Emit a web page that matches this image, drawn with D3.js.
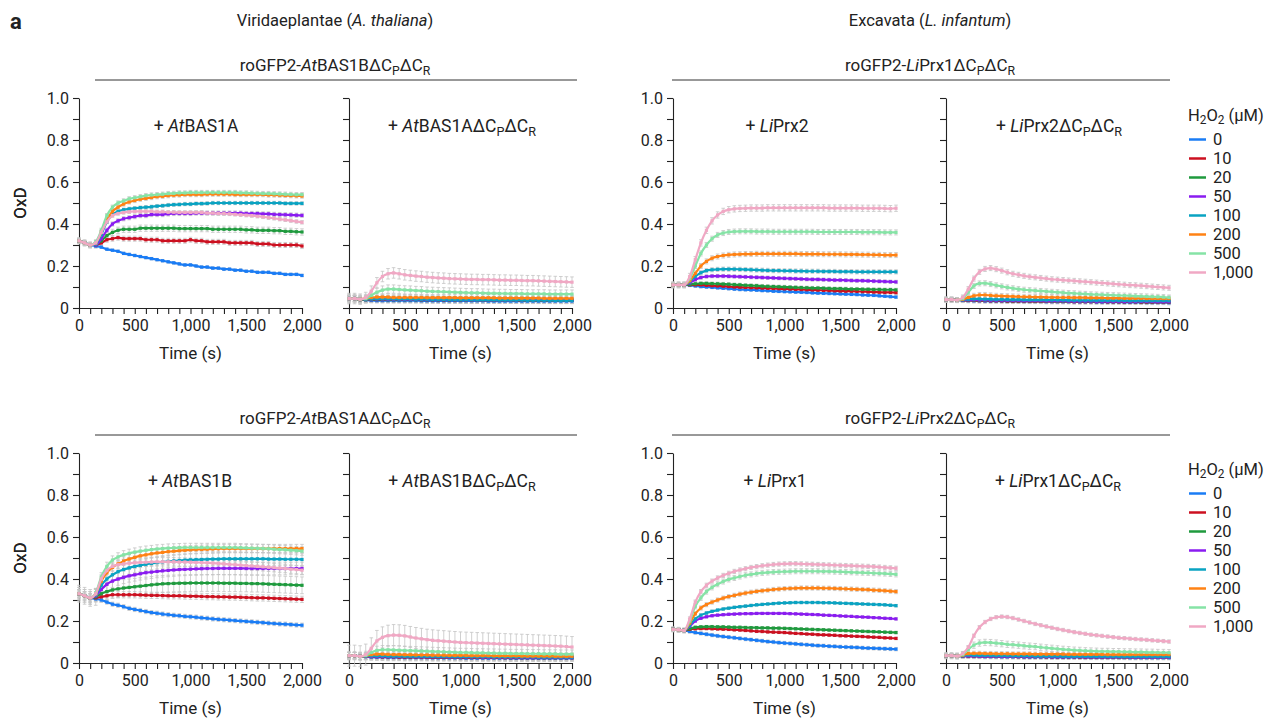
<!DOCTYPE html>
<html>
<head>
<meta charset="utf-8">
<script src="https://cdn.jsdelivr.net/npm/d3@7"></script>
<style>
  body { margin:0; background:#fff; }
  text { font-family: Roboto, "Noto Sans", sans-serif; fill:#222; }
</style>
</head>
<body>
<div id="body"></div>
<script>
//DATA - sampling times (s) shared by every trace
var times = [0,50,100,150,200,250,300,350,400,450,500,550,600,650,700,750,800,850,900,950,1000,
  1050,1100,1150,1200,1250,1300,1350,1400,1450,1500,1550,1600,1650,1700,1750,1800,1850,1900,1950,2000];

var conc = ["0","10","20","50","100","200","500","1,000"]; //H2O2 uM

var xTicks = [0,500,1000,1500,2000];
var yTicks = [0,0.2,0.4,0.6,0.8,1.0];

//OxD traces, one row per H2O2 concentration (0 ... 1000)
var oxdA1 = [ // roGFP2-AtBAS1B + AtBAS1A
  [0.32,0.31,0.30,0.295,0.29,0.28,0.275,0.27,0.26,0.255,0.25,0.245,0.24,0.235,0.23,0.225,0.22,0.215,0.21,0.205,0.205,0.20,0.195,0.195,0.19,0.19,0.185,0.185,0.18,0.18,0.175,0.175,0.17,0.17,0.17,0.165,0.165,0.16,0.16,0.16,0.155],
  [0.32,0.31,0.30,0.30,0.31,0.325,0.33,0.335,0.33,0.33,0.33,0.33,0.325,0.325,0.325,0.32,0.32,0.32,0.32,0.32,0.325,0.32,0.32,0.315,0.315,0.315,0.315,0.31,0.31,0.31,0.31,0.31,0.305,0.305,0.305,0.30,0.30,0.30,0.30,0.30,0.295],
  [0.32,0.31,0.30,0.30,0.32,0.345,0.36,0.37,0.375,0.375,0.375,0.38,0.38,0.38,0.38,0.38,0.38,0.38,0.378,0.378,0.378,0.378,0.378,0.378,0.375,0.375,0.375,0.375,0.375,0.375,0.372,0.372,0.37,0.37,0.37,0.368,0.368,0.365,0.365,0.363,0.362],
  [0.32,0.31,0.30,0.30,0.33,0.37,0.40,0.415,0.425,0.43,0.435,0.44,0.44,0.445,0.445,0.445,0.448,0.45,0.45,0.45,0.45,0.452,0.452,0.452,0.452,0.452,0.452,0.452,0.452,0.452,0.45,0.45,0.45,0.448,0.448,0.446,0.445,0.444,0.443,0.442,0.441],
  [0.32,0.31,0.30,0.305,0.35,0.41,0.445,0.46,0.468,0.472,0.475,0.478,0.48,0.482,0.485,0.487,0.49,0.492,0.493,0.495,0.495,0.497,0.497,0.498,0.50,0.50,0.50,0.50,0.50,0.50,0.50,0.50,0.50,0.50,0.50,0.50,0.50,0.498,0.498,0.498,0.498],
  [0.32,0.31,0.30,0.31,0.36,0.42,0.46,0.48,0.495,0.505,0.512,0.518,0.522,0.526,0.53,0.532,0.535,0.537,0.538,0.54,0.54,0.54,0.54,0.542,0.542,0.542,0.542,0.542,0.54,0.54,0.54,0.54,0.54,0.54,0.538,0.538,0.537,0.536,0.535,0.534,0.533],
  [0.32,0.31,0.30,0.315,0.37,0.44,0.48,0.50,0.51,0.52,0.525,0.53,0.535,0.538,0.54,0.542,0.545,0.546,0.548,0.548,0.55,0.55,0.55,0.55,0.55,0.55,0.55,0.55,0.55,0.548,0.548,0.547,0.546,0.545,0.545,0.544,0.543,0.542,0.541,0.54,0.54],
  [0.32,0.31,0.30,0.31,0.36,0.41,0.44,0.45,0.455,0.458,0.46,0.46,0.46,0.46,0.458,0.458,0.456,0.456,0.455,0.455,0.455,0.455,0.455,0.452,0.452,0.45,0.45,0.448,0.446,0.444,0.442,0.44,0.437,0.434,0.43,0.427,0.423,0.42,0.416,0.412,0.408]
];
var oxdA2 = [ // roGFP2-AtBAS1B + AtBAS1A dCPdCR
  [0.045,0.045,0.04,0.038,0.036,0.035,0.035,0.035,0.035,0.035,0.035,0.035,0.035,0.034,0.034,0.034,0.034,0.034,0.034,0.034,0.034,0.034,0.034,0.034,0.034,0.033,0.033,0.033,0.033,0.033,0.033,0.033,0.033,0.033,0.033,0.033,0.033,0.033,0.033,0.033,0.033],
  [0.045,0.045,0.04,0.04,0.04,0.04,0.04,0.04,0.04,0.04,0.04,0.04,0.04,0.039,0.039,0.039,0.039,0.038,0.038,0.038,0.038,0.038,0.038,0.038,0.037,0.037,0.037,0.037,0.037,0.037,0.037,0.036,0.036,0.036,0.036,0.036,0.036,0.036,0.036,0.036,0.036],
  [0.045,0.045,0.04,0.04,0.041,0.041,0.041,0.04,0.04,0.04,0.04,0.04,0.04,0.04,0.039,0.039,0.039,0.039,0.039,0.039,0.039,0.038,0.038,0.038,0.038,0.038,0.038,0.038,0.038,0.038,0.037,0.037,0.037,0.037,0.037,0.037,0.037,0.037,0.037,0.037,0.037],
  [0.045,0.045,0.042,0.042,0.043,0.043,0.043,0.042,0.042,0.042,0.041,0.041,0.041,0.041,0.04,0.04,0.04,0.04,0.04,0.04,0.04,0.039,0.039,0.039,0.039,0.039,0.039,0.039,0.039,0.038,0.038,0.038,0.038,0.038,0.038,0.038,0.038,0.038,0.038,0.038,0.038],
  [0.045,0.045,0.042,0.042,0.044,0.045,0.045,0.044,0.044,0.043,0.043,0.043,0.042,0.042,0.042,0.041,0.041,0.041,0.04,0.04,0.04,0.04,0.04,0.039,0.039,0.039,0.039,0.038,0.038,0.038,0.038,0.038,0.037,0.037,0.037,0.037,0.037,0.036,0.036,0.036,0.036],
  [0.045,0.045,0.042,0.045,0.05,0.052,0.052,0.052,0.05,0.05,0.05,0.05,0.05,0.05,0.049,0.049,0.049,0.049,0.049,0.049,0.048,0.048,0.048,0.048,0.048,0.048,0.048,0.047,0.047,0.047,0.047,0.047,0.047,0.047,0.047,0.046,0.046,0.046,0.046,0.046,0.046],
  [0.045,0.045,0.042,0.045,0.06,0.075,0.085,0.09,0.09,0.088,0.086,0.085,0.083,0.082,0.08,0.079,0.078,0.077,0.076,0.075,0.074,0.073,0.072,0.072,0.071,0.07,0.07,0.069,0.069,0.068,0.068,0.068,0.067,0.067,0.067,0.067,0.066,0.066,0.066,0.066,0.066],
  [0.045,0.045,0.042,0.05,0.08,0.12,0.15,0.163,0.167,0.163,0.158,0.155,0.152,0.15,0.147,0.145,0.143,0.142,0.14,0.139,0.138,0.137,0.136,0.136,0.135,0.135,0.134,0.133,0.133,0.132,0.132,0.131,0.13,0.13,0.129,0.128,0.127,0.126,0.125,0.124,0.123]
];
var oxdB1 = [ // roGFP2-LiPrx1 + LiPrx2
  [0.11,0.11,0.11,0.108,0.105,0.102,0.1,0.098,0.096,0.094,0.092,0.09,0.088,0.087,0.086,0.085,0.083,0.082,0.08,0.079,0.078,0.077,0.076,0.075,0.074,0.072,0.071,0.07,0.069,0.068,0.067,0.066,0.065,0.064,0.062,0.061,0.06,0.058,0.056,0.054,0.052],
  [0.11,0.11,0.11,0.11,0.11,0.11,0.108,0.106,0.105,0.104,0.102,0.1,0.099,0.098,0.097,0.096,0.095,0.094,0.093,0.092,0.091,0.09,0.089,0.088,0.087,0.086,0.085,0.084,0.083,0.082,0.081,0.08,0.08,0.079,0.078,0.077,0.076,0.075,0.074,0.074,0.073],
  [0.11,0.11,0.11,0.112,0.115,0.117,0.117,0.116,0.115,0.114,0.113,0.111,0.11,0.108,0.107,0.106,0.104,0.103,0.102,0.101,0.1,0.099,0.098,0.097,0.096,0.095,0.095,0.094,0.093,0.092,0.092,0.091,0.09,0.09,0.089,0.089,0.088,0.088,0.087,0.087,0.086],
  [0.11,0.11,0.11,0.12,0.135,0.145,0.15,0.152,0.152,0.152,0.151,0.15,0.149,0.148,0.147,0.146,0.145,0.144,0.143,0.142,0.141,0.14,0.139,0.138,0.137,0.136,0.136,0.135,0.134,0.133,0.133,0.132,0.131,0.13,0.13,0.129,0.128,0.127,0.126,0.125,0.124],
  [0.11,0.11,0.11,0.125,0.15,0.168,0.178,0.182,0.184,0.185,0.185,0.185,0.184,0.183,0.182,0.181,0.18,0.179,0.178,0.178,0.177,0.177,0.176,0.176,0.175,0.175,0.175,0.174,0.174,0.174,0.173,0.173,0.173,0.172,0.172,0.172,0.172,0.172,0.172,0.172,0.172],
  [0.11,0.11,0.11,0.13,0.165,0.2,0.222,0.237,0.245,0.25,0.253,0.255,0.256,0.257,0.257,0.258,0.258,0.258,0.258,0.258,0.258,0.258,0.258,0.257,0.257,0.257,0.257,0.256,0.256,0.256,0.256,0.255,0.255,0.255,0.254,0.254,0.253,0.253,0.252,0.252,0.252],
  [0.11,0.11,0.11,0.14,0.2,0.26,0.3,0.33,0.348,0.357,0.362,0.364,0.365,0.365,0.365,0.364,0.364,0.364,0.363,0.363,0.363,0.363,0.363,0.363,0.363,0.363,0.362,0.362,0.362,0.362,0.362,0.362,0.362,0.362,0.361,0.361,0.361,0.361,0.36,0.36,0.36],
  [0.11,0.11,0.11,0.15,0.23,0.31,0.37,0.415,0.443,0.46,0.468,0.472,0.474,0.475,0.476,0.476,0.476,0.477,0.477,0.477,0.477,0.477,0.477,0.477,0.477,0.477,0.477,0.477,0.476,0.476,0.476,0.476,0.476,0.476,0.475,0.475,0.475,0.475,0.474,0.473,0.475]
];
var oxdB2 = [ // roGFP2-LiPrx1 + LiPrx2 dCPdCR
  [0.04,0.04,0.038,0.036,0.035,0.034,0.034,0.033,0.033,0.033,0.033,0.032,0.032,0.032,0.031,0.031,0.031,0.031,0.03,0.03,0.03,0.03,0.03,0.029,0.029,0.029,0.029,0.028,0.028,0.028,0.028,0.028,0.027,0.027,0.027,0.027,0.026,0.026,0.026,0.026,0.025],
  [0.04,0.04,0.038,0.037,0.036,0.036,0.035,0.035,0.034,0.034,0.034,0.033,0.033,0.033,0.033,0.032,0.032,0.032,0.032,0.031,0.031,0.031,0.031,0.03,0.03,0.03,0.03,0.03,0.03,0.029,0.029,0.029,0.029,0.029,0.029,0.028,0.028,0.028,0.028,0.028,0.028],
  [0.04,0.04,0.038,0.038,0.038,0.038,0.037,0.037,0.036,0.036,0.036,0.035,0.035,0.035,0.035,0.034,0.034,0.034,0.034,0.033,0.033,0.033,0.033,0.033,0.032,0.032,0.032,0.032,0.032,0.031,0.031,0.031,0.031,0.031,0.031,0.03,0.03,0.03,0.03,0.03,0.03],
  [0.04,0.04,0.038,0.038,0.039,0.039,0.038,0.038,0.037,0.037,0.037,0.036,0.036,0.036,0.035,0.035,0.035,0.035,0.034,0.034,0.034,0.034,0.033,0.033,0.033,0.033,0.033,0.032,0.032,0.032,0.032,0.032,0.031,0.031,0.031,0.031,0.031,0.031,0.03,0.03,0.03],
  [0.04,0.04,0.038,0.039,0.042,0.043,0.043,0.042,0.042,0.041,0.041,0.04,0.04,0.04,0.039,0.039,0.039,0.039,0.038,0.038,0.038,0.038,0.037,0.037,0.037,0.037,0.037,0.036,0.036,0.036,0.036,0.036,0.036,0.035,0.035,0.035,0.035,0.035,0.035,0.035,0.035],
  [0.04,0.04,0.038,0.042,0.05,0.058,0.062,0.062,0.06,0.058,0.057,0.056,0.055,0.054,0.053,0.053,0.052,0.052,0.051,0.051,0.05,0.05,0.05,0.049,0.049,0.049,0.048,0.048,0.048,0.047,0.047,0.047,0.046,0.046,0.046,0.046,0.045,0.045,0.045,0.045,0.045],
  [0.04,0.04,0.038,0.045,0.075,0.105,0.117,0.118,0.114,0.108,0.103,0.098,0.094,0.09,0.087,0.085,0.083,0.081,0.079,0.077,0.075,0.073,0.071,0.07,0.068,0.067,0.065,0.064,0.063,0.062,0.061,0.06,0.059,0.058,0.057,0.056,0.055,0.054,0.053,0.052,0.05],
  [0.04,0.04,0.038,0.05,0.09,0.14,0.172,0.186,0.19,0.185,0.178,0.17,0.163,0.158,0.153,0.149,0.146,0.143,0.14,0.137,0.135,0.133,0.131,0.129,0.127,0.125,0.123,0.121,0.119,0.117,0.115,0.113,0.111,0.109,0.108,0.106,0.104,0.102,0.1,0.098,0.096]
];
var oxdC1 = [ // roGFP2-AtBAS1A + AtBAS1B
  [0.33,0.32,0.31,0.305,0.30,0.29,0.28,0.275,0.268,0.26,0.255,0.25,0.245,0.24,0.237,0.233,0.23,0.227,0.225,0.222,0.22,0.218,0.215,0.213,0.21,0.208,0.206,0.204,0.202,0.2,0.198,0.196,0.194,0.192,0.19,0.188,0.186,0.185,0.183,0.181,0.18],
  [0.33,0.32,0.31,0.31,0.315,0.32,0.325,0.325,0.325,0.325,0.325,0.324,0.323,0.322,0.322,0.321,0.32,0.32,0.32,0.319,0.318,0.318,0.317,0.316,0.316,0.315,0.315,0.314,0.314,0.313,0.312,0.311,0.31,0.31,0.309,0.308,0.307,0.306,0.305,0.304,0.303],
  [0.33,0.32,0.31,0.315,0.33,0.34,0.348,0.353,0.357,0.36,0.363,0.366,0.369,0.372,0.375,0.377,0.378,0.379,0.38,0.38,0.381,0.381,0.381,0.381,0.381,0.381,0.38,0.38,0.38,0.379,0.379,0.378,0.378,0.377,0.376,0.375,0.374,0.373,0.372,0.371,0.37],
  [0.33,0.32,0.31,0.32,0.35,0.375,0.39,0.4,0.408,0.415,0.42,0.425,0.43,0.433,0.436,0.439,0.441,0.443,0.445,0.446,0.447,0.448,0.449,0.45,0.45,0.451,0.451,0.451,0.451,0.451,0.45,0.45,0.45,0.45,0.45,0.45,0.45,0.45,0.45,0.45,0.45],
  [0.33,0.32,0.31,0.325,0.37,0.4,0.42,0.435,0.445,0.453,0.46,0.465,0.47,0.474,0.478,0.481,0.484,0.486,0.488,0.49,0.491,0.492,0.493,0.494,0.495,0.495,0.496,0.496,0.496,0.496,0.496,0.496,0.496,0.496,0.495,0.495,0.495,0.494,0.494,0.494,0.493],
  [0.33,0.32,0.31,0.33,0.39,0.43,0.455,0.472,0.485,0.495,0.503,0.51,0.515,0.52,0.524,0.527,0.53,0.533,0.535,0.537,0.539,0.54,0.541,0.542,0.543,0.544,0.545,0.545,0.545,0.545,0.545,0.545,0.545,0.545,0.545,0.545,0.545,0.545,0.545,0.545,0.545],
  [0.33,0.32,0.31,0.335,0.41,0.46,0.49,0.505,0.515,0.522,0.528,0.533,0.537,0.54,0.543,0.545,0.547,0.548,0.549,0.55,0.55,0.55,0.55,0.55,0.55,0.55,0.55,0.55,0.55,0.549,0.548,0.547,0.546,0.545,0.544,0.542,0.54,0.539,0.537,0.535,0.533],
  [0.33,0.32,0.31,0.33,0.4,0.44,0.46,0.468,0.472,0.475,0.477,0.479,0.48,0.481,0.482,0.482,0.482,0.482,0.481,0.481,0.48,0.479,0.478,0.477,0.476,0.474,0.472,0.47,0.468,0.466,0.464,0.462,0.46,0.458,0.456,0.454,0.452,0.45,0.447,0.445,0.442]
];
var oxdC2 = [ // roGFP2-AtBAS1A + AtBAS1B dCPdCR
  [0.035,0.035,0.032,0.03,0.028,0.027,0.027,0.026,0.026,0.026,0.025,0.025,0.025,0.025,0.025,0.024,0.024,0.024,0.024,0.024,0.024,0.023,0.023,0.023,0.023,0.023,0.023,0.023,0.023,0.022,0.022,0.022,0.022,0.022,0.022,0.022,0.022,0.022,0.022,0.022,0.022],
  [0.035,0.035,0.032,0.031,0.03,0.03,0.029,0.029,0.029,0.028,0.028,0.028,0.028,0.028,0.027,0.027,0.027,0.027,0.027,0.027,0.026,0.026,0.026,0.026,0.026,0.026,0.026,0.026,0.025,0.025,0.025,0.025,0.025,0.025,0.025,0.025,0.025,0.025,0.025,0.025,0.025],
  [0.035,0.035,0.032,0.032,0.033,0.033,0.033,0.032,0.032,0.032,0.032,0.031,0.031,0.031,0.031,0.031,0.03,0.03,0.03,0.03,0.03,0.03,0.03,0.029,0.029,0.029,0.029,0.029,0.029,0.029,0.029,0.028,0.028,0.028,0.028,0.028,0.028,0.028,0.028,0.028,0.028],
  [0.035,0.035,0.032,0.032,0.032,0.032,0.032,0.031,0.031,0.031,0.031,0.031,0.03,0.03,0.03,0.03,0.03,0.03,0.029,0.029,0.029,0.029,0.029,0.029,0.028,0.028,0.028,0.028,0.028,0.028,0.028,0.028,0.027,0.027,0.027,0.027,0.027,0.027,0.027,0.027,0.027],
  [0.035,0.035,0.032,0.033,0.034,0.034,0.034,0.033,0.033,0.033,0.032,0.032,0.032,0.032,0.031,0.031,0.031,0.031,0.031,0.03,0.03,0.03,0.03,0.03,0.03,0.03,0.029,0.029,0.029,0.029,0.029,0.029,0.029,0.029,0.028,0.028,0.028,0.028,0.028,0.028,0.028],
  [0.035,0.035,0.032,0.035,0.04,0.042,0.042,0.041,0.04,0.04,0.039,0.039,0.038,0.038,0.038,0.037,0.037,0.037,0.036,0.036,0.036,0.036,0.035,0.035,0.035,0.035,0.034,0.034,0.034,0.034,0.034,0.033,0.033,0.033,0.033,0.033,0.033,0.032,0.032,0.032,0.032],
  [0.035,0.035,0.032,0.036,0.05,0.06,0.063,0.063,0.062,0.061,0.06,0.059,0.058,0.057,0.056,0.055,0.054,0.053,0.052,0.051,0.05,0.05,0.049,0.048,0.048,0.047,0.047,0.046,0.046,0.045,0.045,0.045,0.044,0.044,0.044,0.043,0.043,0.043,0.042,0.042,0.042],
  [0.035,0.035,0.032,0.04,0.07,0.105,0.122,0.13,0.133,0.132,0.129,0.124,0.119,0.115,0.111,0.108,0.106,0.104,0.102,0.1,0.098,0.097,0.096,0.095,0.094,0.093,0.092,0.091,0.09,0.089,0.088,0.087,0.086,0.085,0.084,0.083,0.082,0.081,0.08,0.078,0.076]
];
var oxdD1 = [ // roGFP2-LiPrx2 + LiPrx1
  [0.16,0.158,0.155,0.15,0.145,0.141,0.137,0.133,0.129,0.126,0.123,0.12,0.117,0.114,0.111,0.108,0.105,0.102,0.1,0.097,0.095,0.093,0.091,0.089,0.087,0.085,0.083,0.082,0.08,0.079,0.077,0.076,0.075,0.074,0.072,0.071,0.07,0.069,0.068,0.067,0.066],
  [0.16,0.158,0.155,0.16,0.163,0.164,0.164,0.163,0.162,0.161,0.16,0.158,0.157,0.155,0.153,0.151,0.15,0.148,0.147,0.146,0.145,0.143,0.141,0.14,0.138,0.137,0.135,0.134,0.133,0.132,0.13,0.129,0.128,0.127,0.126,0.124,0.123,0.122,0.12,0.119,0.117],
  [0.16,0.158,0.155,0.163,0.17,0.172,0.173,0.173,0.172,0.172,0.171,0.17,0.17,0.169,0.168,0.168,0.167,0.167,0.166,0.166,0.165,0.164,0.163,0.162,0.161,0.16,0.159,0.158,0.157,0.156,0.155,0.154,0.153,0.152,0.151,0.15,0.149,0.148,0.147,0.146,0.145],
  [0.16,0.158,0.155,0.175,0.2,0.213,0.22,0.225,0.228,0.23,0.232,0.233,0.234,0.235,0.235,0.236,0.236,0.236,0.236,0.236,0.236,0.235,0.234,0.233,0.232,0.231,0.23,0.228,0.227,0.226,0.224,0.223,0.222,0.22,0.219,0.218,0.216,0.215,0.213,0.212,0.21],
  [0.16,0.158,0.155,0.18,0.21,0.228,0.238,0.246,0.252,0.257,0.261,0.265,0.268,0.271,0.274,0.277,0.279,0.281,0.283,0.285,0.286,0.287,0.288,0.288,0.288,0.288,0.288,0.287,0.287,0.286,0.285,0.284,0.283,0.282,0.281,0.28,0.279,0.278,0.277,0.275,0.273],
  [0.16,0.158,0.155,0.19,0.235,0.262,0.278,0.29,0.3,0.309,0.316,0.322,0.328,0.333,0.337,0.341,0.344,0.347,0.35,0.352,0.354,0.355,0.356,0.357,0.357,0.357,0.357,0.356,0.356,0.355,0.354,0.353,0.352,0.351,0.35,0.349,0.347,0.346,0.344,0.342,0.34],
  [0.16,0.158,0.155,0.2,0.27,0.31,0.34,0.36,0.375,0.388,0.398,0.405,0.412,0.418,0.422,0.426,0.429,0.431,0.433,0.434,0.435,0.436,0.437,0.437,0.437,0.437,0.437,0.436,0.436,0.435,0.434,0.433,0.432,0.431,0.43,0.429,0.428,0.427,0.426,0.424,0.422],
  [0.16,0.158,0.155,0.21,0.29,0.34,0.37,0.39,0.405,0.417,0.427,0.436,0.443,0.449,0.455,0.459,0.463,0.466,0.469,0.471,0.472,0.473,0.473,0.472,0.471,0.47,0.469,0.468,0.467,0.466,0.465,0.464,0.463,0.462,0.461,0.46,0.459,0.457,0.455,0.453,0.451]
];
var oxdD2 = [ // roGFP2-LiPrx2 + LiPrx1 dCPdCR
  [0.035,0.035,0.033,0.033,0.032,0.031,0.031,0.03,0.03,0.03,0.029,0.029,0.029,0.029,0.028,0.028,0.028,0.028,0.028,0.027,0.027,0.027,0.027,0.027,0.027,0.026,0.026,0.026,0.026,0.026,0.026,0.026,0.026,0.025,0.025,0.025,0.025,0.025,0.025,0.025,0.025],
  [0.035,0.035,0.033,0.033,0.033,0.033,0.032,0.032,0.032,0.031,0.031,0.031,0.031,0.03,0.03,0.03,0.03,0.03,0.029,0.029,0.029,0.029,0.029,0.029,0.028,0.028,0.028,0.028,0.028,0.028,0.028,0.028,0.027,0.027,0.027,0.027,0.027,0.027,0.027,0.027,0.027],
  [0.035,0.035,0.033,0.034,0.035,0.035,0.035,0.034,0.034,0.034,0.034,0.033,0.033,0.033,0.033,0.033,0.032,0.032,0.032,0.032,0.032,0.032,0.031,0.031,0.031,0.031,0.031,0.031,0.031,0.031,0.03,0.03,0.03,0.03,0.03,0.03,0.03,0.03,0.03,0.03,0.03],
  [0.035,0.035,0.033,0.034,0.034,0.034,0.033,0.033,0.033,0.033,0.032,0.032,0.032,0.032,0.031,0.031,0.031,0.031,0.031,0.03,0.03,0.03,0.03,0.03,0.03,0.029,0.029,0.029,0.029,0.029,0.029,0.029,0.029,0.028,0.028,0.028,0.028,0.028,0.028,0.028,0.028],
  [0.035,0.035,0.033,0.035,0.038,0.037,0.036,0.036,0.036,0.035,0.035,0.035,0.034,0.034,0.034,0.034,0.033,0.033,0.033,0.033,0.033,0.032,0.032,0.032,0.032,0.032,0.031,0.031,0.031,0.031,0.031,0.031,0.03,0.03,0.03,0.03,0.03,0.03,0.03,0.03,0.03],
  [0.035,0.035,0.033,0.038,0.045,0.046,0.046,0.045,0.045,0.044,0.044,0.044,0.043,0.043,0.043,0.043,0.042,0.042,0.042,0.042,0.042,0.042,0.041,0.041,0.041,0.041,0.041,0.041,0.041,0.04,0.04,0.04,0.04,0.04,0.04,0.04,0.04,0.04,0.04,0.04,0.04],
  [0.035,0.035,0.033,0.04,0.065,0.085,0.095,0.098,0.097,0.095,0.092,0.089,0.087,0.085,0.082,0.08,0.078,0.075,0.072,0.07,0.067,0.065,0.063,0.061,0.06,0.058,0.057,0.056,0.055,0.055,0.054,0.054,0.053,0.053,0.052,0.052,0.051,0.051,0.05,0.05,0.049],
  [0.035,0.035,0.033,0.045,0.075,0.13,0.17,0.195,0.21,0.218,0.221,0.219,0.214,0.207,0.2,0.193,0.186,0.18,0.174,0.168,0.162,0.157,0.152,0.147,0.143,0.139,0.135,0.132,0.129,0.126,0.123,0.12,0.118,0.116,0.114,0.112,0.11,0.108,0.106,0.104,0.102]
];

//error bar half-heights (SD), one per concentration
var sdA1 = [0.006,0.012,0.015,0.01,0.008,0.01,0.01,0.008];
var sdA2 = [0.01,0.015,0.015,0.015,0.015,0.015,0.02,0.025];
var sdB1 = [0.006,0.008,0.008,0.008,0.01,0.012,0.012,0.015];
var sdB2 = [0.01,0.01,0.01,0.01,0.01,0.012,0.012,0.012];
var sdC1 = [0.01,0.015,0.04,0.03,0.03,0.02,0.02,0.02];
var sdC2 = [0.015,0.015,0.015,0.015,0.015,0.015,0.02,0.05];
var sdD1 = [0.008,0.006,0.006,0.005,0.006,0.01,0.012,0.01];
var sdD2 = [0.01,0.01,0.01,0.01,0.01,0.01,0.015,0.008];

//STYLE
var colors = ["#1a7cf5","#cc1020","#1f9a3e","#8a1cf0","#0aa3c2","#ff8214","#86e3a6","#f0a8c4"];

var width = 1274;
var height = 718;

//rich text bits: [text, style] with style "" | "i" | "sub"
function ddC(prefix){ return [[prefix + "\u0394C",""],["P","sub"],["\u0394C",""],["R","sub"]]; }

var panels = [
  {data:oxdA1, sd:sdA1, x0:79,  x1:302, row:0, ylab:true,  lx:196,  label:[["+ ",""],["At","i"],["BAS1A",""]]},
  {data:oxdA2, sd:sdA2, x0:349, x1:572, row:0, ylab:false, lx:462,  label:[["+ ",""],["At","i"]].concat(ddC("BAS1A"))},
  {data:oxdB1, sd:sdB1, x0:673, x1:896, row:0, ylab:true,  lx:777,  label:[["+ ",""],["Li","i"],["Prx2",""]]},
  {data:oxdB2, sd:sdB2, x0:946, x1:1169,row:0, ylab:false, lx:1059, label:[["+ ",""],["Li","i"]].concat(ddC("Prx2"))},
  {data:oxdC1, sd:sdC1, x0:79,  x1:302, row:1, ylab:true,  lx:190,  label:[["+ ",""],["At","i"],["BAS1B",""]]},
  {data:oxdC2, sd:sdC2, x0:349, x1:572, row:1, ylab:false, lx:462,  label:[["+ ",""],["At","i"]].concat(ddC("BAS1B"))},
  {data:oxdD1, sd:sdD1, x0:673, x1:896, row:1, ylab:true,  lx:775,  label:[["+ ",""],["Li","i"],["Prx1",""]]},
  {data:oxdD2, sd:sdD2, x0:946, x1:1169,row:1, ylab:false, lx:1058, label:[["+ ",""],["Li","i"]].concat(ddC("Prx1"))}
];
var rows = [{top:98, bottom:308}, {top:453, bottom:663}];

var groups = [
  {cx:335, y:71,  lineY:80,  lx0:95,  lx1:577,  label:[["roGFP2-",""],["At","i"]].concat(ddC("BAS1B"))},
  {cx:930, y:71,  lineY:80,  lx0:672, lx1:1170, label:[["roGFP2-",""],["Li","i"]].concat(ddC("Prx1"))},
  {cx:335, y:424, lineY:435, lx0:95,  lx1:577,  label:[["roGFP2-",""],["At","i"]].concat(ddC("BAS1A"))},
  {cx:930, y:424, lineY:435, lx0:672, lx1:1170, label:[["roGFP2-",""],["Li","i"]].concat(ddC("Prx2"))}
];

function rich(sel, parts, shift){
  var sh = shift || 4;
  var shifted = false;
  parts.forEach(function(p){
    var t = sel.append("tspan").text(p[0]);
    if(p[1] === "i") t.attr("font-style","italic");
    if(p[1] === "sub"){
      t.attr("font-size","0.72em").attr("dy", shifted ? 0 : sh);
      shifted = true;
    } else if(shifted){
      t.attr("dy",-sh);
      shifted = false;
    }
  });
  return sel;
}

var svg = d3.select("#body").append("svg")
  .attr("width", width)
  .attr("height", height);

svg.append("rect").attr("width",width).attr("height",height).attr("fill","#fff");

//---HEADERS
svg.append("text").attr("x",10).attr("y",29)
  .attr("font-size",22).attr("font-weight","bold").text("a");
rich(svg.append("text").attr("x",335).attr("y",26).attr("text-anchor","middle").attr("font-size",16.5),
  [["Viridaeplantae (",""],["A. thaliana","i"],[")",""]]);
rich(svg.append("text").attr("x",930).attr("y",26).attr("text-anchor","middle").attr("font-size",16.5),
  [["Excavata (",""],["L. infantum","i"],[")",""]]);

groups.forEach(function(g){
  rich(svg.append("text").attr("x",g.cx).attr("y",g.y).attr("text-anchor","middle").attr("font-size",17), g.label);
  svg.append("line").attr("x1",g.lx0).attr("x2",g.lx1).attr("y1",g.lineY).attr("y2",g.lineY)
    .attr("stroke","#333").attr("stroke-width",1);
});

//---PANELS
var fmtX = d3.format(",");
panels.forEach(function(p){
  var r = rows[p.row];
  var x = d3.scaleLinear().domain([0,2000]).range([p.x0,p.x1]);
  var y = d3.scaleLinear().domain([0,1]).range([r.bottom,r.top]);
  var g = svg.append("g");

  var yAxis = d3.axisLeft(y)
    .tickValues(d3.range(0,1.0001,0.1))
    .tickSize(6).tickSizeOuter(0).tickPadding(4)
    .tickFormat(function(d){
      if(!p.ylab) return "";
      var k = Math.round(d*10);
      if(k % 2) return "";
      return k === 0 ? "0" : d3.format(".1f")(d);
    });
  var xAxis = d3.axisBottom(x)
    .tickValues(d3.range(0,2001,100))
    .tickSize(6).tickSizeOuter(0).tickPadding(6)
    .tickFormat(function(d){ return xTicks.indexOf(d) >= 0 ? fmtX(d) : ""; });

  g.append("g").attr("transform","translate(" + p.x0 + ",0)").call(yAxis);
  g.append("g").attr("transform","translate(0," + r.bottom + ")").call(xAxis);
  g.selectAll(".domain, .tick line").attr("stroke","#222").attr("stroke-width",1.1);
  g.selectAll(".tick text").attr("font-size",16).attr("fill","#222")
    .attr("font-family","Roboto, 'Noto Sans', sans-serif");

  g.append("text").attr("x",(p.x0+p.x1)/2).attr("y",r.bottom+51)
    .attr("text-anchor","middle").attr("font-size",17).text("Time (s)");
  if(p.ylab){
    g.append("text").attr("transform","translate(26," + ((r.top+r.bottom)/2) + ") rotate(-90)")
      .attr("text-anchor","middle").attr("font-size",17).text("OxD");
  }
  rich(g.append("text").attr("x",p.lx).attr("y",r.top+34).attr("text-anchor","middle").attr("font-size",17.5), p.label);

  //error bars under everything
  var eb = g.append("g").attr("stroke","#c4c4c4").attr("stroke-width",0.8).attr("fill","none");
  p.data.forEach(function(series, si){
    var s = p.sd[si];
    series.forEach(function(v, i){
      var cx = x(times[i]);
      eb.append("path").attr("d",
        "M" + cx + "," + y(v-s) + "V" + y(v+s) +
        "M" + (cx-1.8) + "," + y(v-s) + "H" + (cx+1.8) +
        "M" + (cx-1.8) + "," + y(v+s) + "H" + (cx+1.8));
    });
  });

  var line = d3.line().x(function(d,i){ return x(times[i]); }).y(function(d){ return y(d); })
    .curve(d3.curveMonotoneX);
  p.data.forEach(function(series, si){
    g.append("path").datum(series).attr("d",line)
      .attr("fill","none").attr("stroke",colors[si]).attr("stroke-width",2.2);
    g.append("g").selectAll("rect").data(series).enter().append("rect")
      .attr("x",function(d,i){ return x(times[i]) - 1.6; })
      .attr("y",function(d){ return y(d) - 1.6; })
      .attr("width",3.2).attr("height",3.2)
      .attr("fill",colors[si]);
  });
});

//---LEGENDS
[118, 472].forEach(function(ty){
  var lg = svg.append("g");
  rich(lg.append("text").attr("x",1188).attr("y",ty+3).attr("font-size",16.5),
    [["H",""],["2","sub"],["O",""],["2","sub"],[" (\u03bcM)",""]], 3);
  conc.forEach(function(c, i){
    var yy = ty + 21.5 + i*19;
    lg.append("line").attr("x1",1189).attr("x2",1206).attr("y1",yy).attr("y2",yy)
      .attr("stroke",colors[i]).attr("stroke-width",2.5);
    lg.append("text").attr("x",1213).attr("y",yy).attr("dy","0.36em")
      .attr("font-size",16.5).text(c);
  });
});
</script>
</body>
</html>
